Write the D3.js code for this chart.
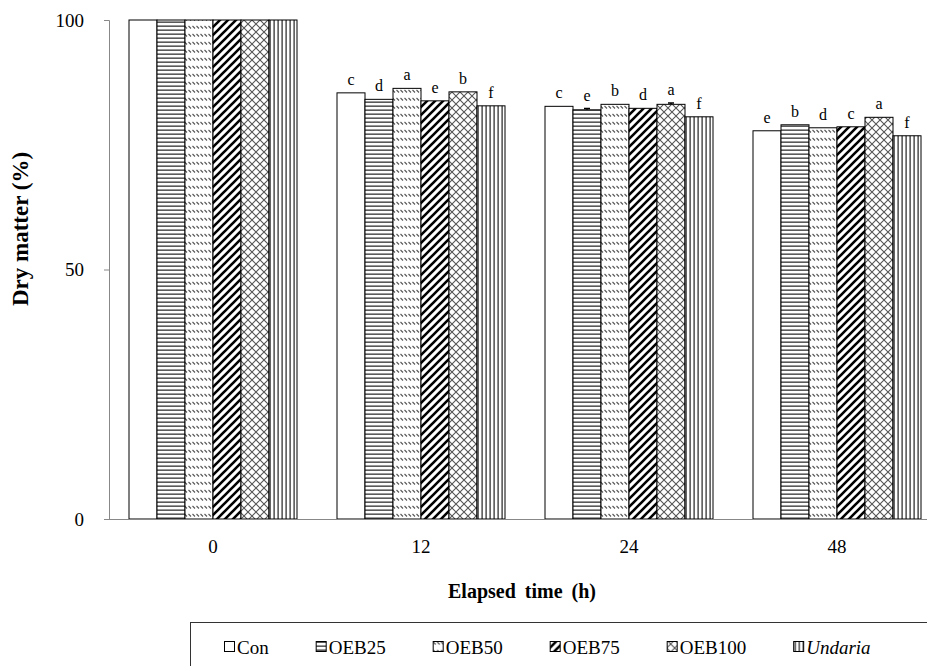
<!DOCTYPE html>
<html>
<head>
<meta charset="utf-8">
<script src="https://cdn.jsdelivr.net/npm/d3@7"></script>
<style>
  html, body { margin: 0; padding: 0; background: #fff; }
  svg { display: block; }
  text { font-family: "Liberation Serif", "Times New Roman", serif; fill: #000; }
</style>
</head>
<body>
<svg id="chart" width="927" height="666"></svg>
<script>
// Elapsed time groups (h)
const times = ["0", "12", "24", "48"];
// Treatments
const treatments = ["Con", "OEB25", "OEB50", "OEB75", "OEB100", "Undaria"];
// Dry matter (%) per treatment, in the order of `times`
const conValues     = [100, 85.4, 82.7, 77.8];
const oeb25Values   = [100, 84.1, 82.0, 79.0];
const oeb50Values   = [100, 86.3, 83.1, 78.4];
const oeb75Values   = [100, 83.8, 82.3, 78.6];
const oeb100Values  = [100, 85.6, 83.1, 80.5];
const undariaValues = [100, 82.8, 80.6, 76.8];
// Standard errors (mostly too small to see)
const conErr     = [0, 0, 0, 0];
const oeb25Err   = [0, 0, 0.25, 0];
const oeb50Err   = [0, 0, 0, 0];
const oeb75Err   = [0, 0, 0, 0];
const oeb100Err  = [0, 0, 0.25, 0];
const undariaErr = [0, 0, 0, 0];
// Significance letters (no letters at 0 h)
const conLetters     = ["", "c", "c", "e"];
const oeb25Letters   = ["", "d", "e", "b"];
const oeb50Letters   = ["", "a", "b", "d"];
const oeb75Letters   = ["", "e", "d", "c"];
const oeb100Letters  = ["", "b", "a", "a"];
const undariaLetters = ["", "f", "f", "f"];
// Y axis ticks
const yTicks = [0, 50, 100];

const seriesValues  = [conValues, oeb25Values, oeb50Values, oeb75Values, oeb100Values, undariaValues];
const seriesErr     = [conErr, oeb25Err, oeb50Err, oeb75Err, oeb100Err, undariaErr];
const seriesLetters = [conLetters, oeb25Letters, oeb50Letters, oeb75Letters, oeb100Letters, undariaLetters];

const rows = [];
times.forEach((t, i) => {
  treatments.forEach((s, j) => {
    rows.push({ time: t, series: s, idx: j,
      value: seriesValues[j][i], err: seriesErr[j][i], letter: seriesLetters[j][i] });
  });
});

const svg = d3.select("#chart");

// ---- fill patterns ----
const defs = svg.append("defs");
function pat(id, w, h, build) {
  const p = defs.append("pattern").attr("id", id)
    .attr("patternUnits", "userSpaceOnUse").attr("width", w).attr("height", h);
  p.append("rect").attr("width", w).attr("height", h).attr("fill", "#fff");
  build(p);
}
// horizontal lines
pat("p-h", 4, 4, p => p.append("rect").attr("x", 0).attr("y", 1.5).attr("width", 4).attr("height", 1.3).attr("fill", "#333"));
// dashed downward diagonals
pat("p-dd", 4, 8, p => {
  p.append("path").attr("d", "M0.5,2 L3,4.5").attr("stroke", "#555").attr("stroke-width", 1.1);
});
// wide upward diagonals
pat("p-wu", 8, 8, p => {
  p.append("path").attr("d", "M-2,10 L10,-2 M-2,2 L2,-2 M6,10 L10,6")
    .attr("stroke", "#000").attr("stroke-width", 2.6);
});
// diagonal cross-hatch
pat("p-x", 8, 8, p => {
  p.append("path").attr("d", "M0,0 L8,8 M8,0 L0,8").attr("stroke", "#555").attr("stroke-width", 1.1);
});
// vertical lines
pat("p-v", 4, 4, p => p.append("rect").attr("x", 1.5).attr("y", 0).attr("width", 1.2).attr("height", 4).attr("fill", "#222"));

const fills = ["#fff", "url(#p-h)", "url(#p-dd)", "url(#p-wu)", "url(#p-x)", "url(#p-v)"];
const color = d3.scaleOrdinal().domain(treatments).range(fills);

// ---- scales ----
const x0 = d3.scaleBand().domain(times).range([109, 941])
  .paddingInner(40 / 208).paddingOuter(20 / 208);
const x1 = d3.scaleBand().domain(treatments).range([0, x0.bandwidth()]);
const y = d3.scaleLinear().domain([0, 100]).range([519, 20]);

// ---- bars ----
const g = svg.append("g");
g.selectAll("rect.bar").data(rows).join("rect")
  .attr("class", "bar")
  .attr("x", d => x0(d.time) + x1(d.series))
  .attr("y", d => y(d.value))
  .attr("width", x1.bandwidth())
  .attr("height", d => y(0) - y(d.value))
  .attr("fill", d => color(d.series))
  .attr("stroke", "#000").attr("stroke-width", 1);

// error bars (upper half)
const eb = rows.filter(d => d.err > 0);
g.selectAll("path.err").data(eb).join("path")
  .attr("class", "err")
  .attr("d", d => {
    const cx = x0(d.time) + x1(d.series) + x1.bandwidth() / 2;
    const yt = y(d.value + d.err);
    return `M${cx},${y(d.value)}V${yt}M${cx - 3},${yt}H${cx + 3}`;
  })
  .attr("stroke", "#000").attr("stroke-width", 1.5).attr("fill", "none");

// significance letters
g.selectAll("text.letter").data(rows.filter(d => d.letter)).join("text")
  .attr("class", "letter")
  .attr("x", d => x0(d.time) + x1(d.series) + x1.bandwidth() / 2)
  .attr("y", d => y(d.value + d.err) - 8)
  .attr("text-anchor", "middle")
  .attr("font-size", 16)
  .text(d => d.letter);

// ---- axes ----
const yAxis = d3.axisLeft(y).tickValues(yTicks).tickSize(5).tickPadding(20);
const ya = svg.append("g").attr("transform", "translate(109,0)").call(yAxis);
ya.select(".domain").attr("stroke", "#888");
ya.selectAll(".tick line").attr("stroke", "#888");
ya.selectAll(".tick text").attr("font-size", 19).attr("font-family", "Liberation Serif");

const xAxis = d3.axisBottom(x0).tickSize(0).tickPadding(21);
const xa = svg.append("g").attr("transform", "translate(0,519)").call(xAxis);
xa.select(".domain").attr("stroke", "#888").attr("d", "M109,0.5H941");
xa.selectAll(".tick text").attr("font-size", 19).attr("font-family", "Liberation Serif");

// axis titles
svg.append("text")
  .attr("transform", "translate(28,229) rotate(-90)")
  .attr("text-anchor", "middle")
  .attr("font-size", 23).attr("font-weight", "bold")
  .text("Dry matter (%)");

svg.append("text")
  .attr("x", 522).attr("y", 598)
  .attr("text-anchor", "middle")
  .attr("font-size", 20).attr("font-weight", "bold")
  .attr("word-spacing", 4)
  .text("Elapsed time (h)");

// ---- legend ----
const legend = svg.append("g");
legend.append("rect").attr("x", 190.5).attr("y", 622.5).attr("width", 760).attr("height", 60)
  .attr("fill", "#fff").attr("stroke", "#333").attr("stroke-width", 1);

let lx = 224;
treatments.forEach((s, j) => {
  const item = legend.append("g").attr("transform", `translate(${lx},0)`);
  item.append("rect").attr("x", 0.5).attr("y", 641.5).attr("width", 10).attr("height", 10)
    .attr("fill", color(s)).attr("stroke", "#000").attr("stroke-width", 1);
  const t = item.append("text").attr("x", 13).attr("y", 654)
    .attr("font-size", 19)
    .attr("font-style", s === "Undaria" ? "italic" : "normal")
    .text(s);
  const w = t.node().getComputedTextLength();
  lx += 13 + w + 47;
});
</script>
</body>
</html>
